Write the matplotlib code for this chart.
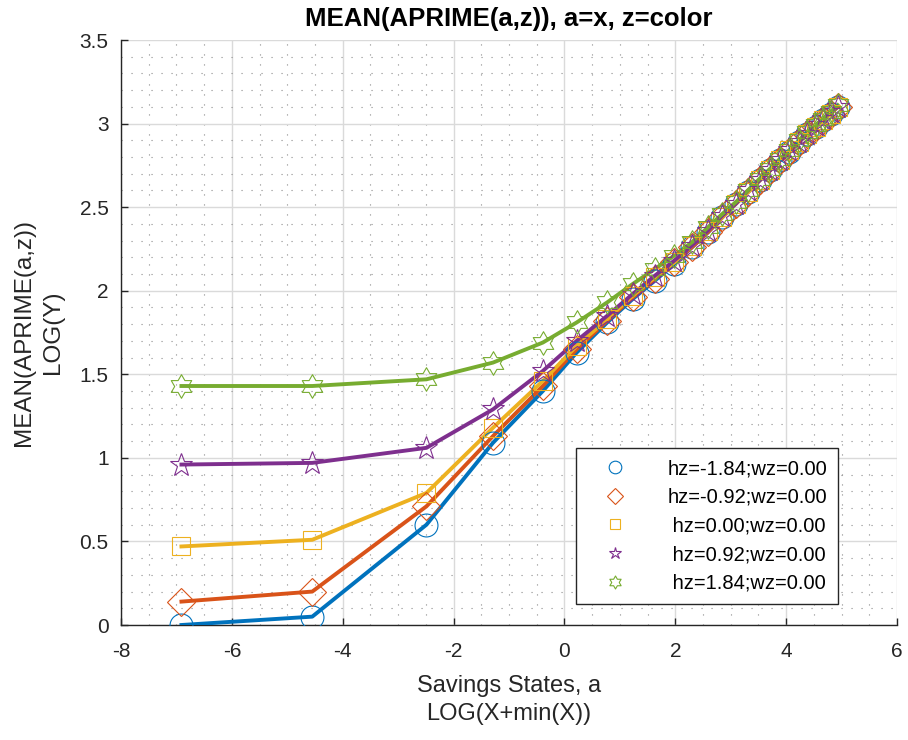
import matplotlib.pyplot as plt
from matplotlib.path import Path
from matplotlib.ticker import MultipleLocator

plt.rcParams['font.family'] = ['Liberation Sans', 'DejaVu Sans']
plt.rcParams['axes.unicode_minus'] = False

# savings grid, log(a + min)
x = [-6.91, -4.55, -2.49, -1.29, -0.39, 0.22, 0.77, 1.23, 1.63, 1.98, 2.30, 2.59, 2.85,
     3.09, 3.31, 3.52, 3.71, 3.89, 4.06, 4.23, 4.38, 4.53, 4.67, 4.80, 4.93]

# mean log(aprime) for each shock level
y_m184 = [0.00, 0.05, 0.60, 1.09, 1.40, 1.63, 1.81, 1.95, 2.06, 2.16, 2.26, 2.35, 2.44,
          2.52, 2.59, 2.66, 2.72, 2.78, 2.83, 2.89, 2.94, 2.98, 3.02, 3.06, 3.10]
y_m092 = [0.14, 0.20, 0.71, 1.13, 1.43, 1.65, 1.82, 1.96, 2.07, 2.17, 2.26, 2.35, 2.44,
          2.52, 2.59, 2.66, 2.72, 2.78, 2.83, 2.89, 2.94, 2.98, 3.02, 3.06, 3.10]
y_000 = [0.47, 0.51, 0.79, 1.18, 1.46, 1.67, 1.83, 1.97, 2.08, 2.17, 2.27, 2.36, 2.44,
         2.52, 2.59, 2.66, 2.72, 2.78, 2.84, 2.89, 2.94, 2.98, 3.02, 3.06, 3.10]
y_092 = [0.96, 0.97, 1.06, 1.29, 1.52, 1.70, 1.85, 1.98, 2.09, 2.18, 2.27, 2.36, 2.45,
         2.52, 2.60, 2.66, 2.72, 2.78, 2.84, 2.89, 2.94, 2.99, 3.03, 3.07, 3.10]
y_184 = [1.43, 1.43, 1.47, 1.57, 1.69, 1.81, 1.93, 2.04, 2.13, 2.21, 2.29, 2.38, 2.46,
         2.53, 2.60, 2.67, 2.73, 2.79, 2.84, 2.90, 2.95, 2.99, 3.03, 3.07, 3.11]

labels = ['hz=-1.84;wz=0.00', 'hz=-0.92;wz=0.00', ' hz=0.00;wz=0.00',
          ' hz=0.92;wz=0.00', ' hz=1.84;wz=0.00']
series = [y_m184, y_m092, y_000, y_092, y_184]
colors = ['#0072BD', '#D95319', '#EDB120', '#7E2F8E', '#77AC30']
hexagram = Path.unit_regular_star(6, innerCircle=0.577)
markers = ['o', 'D', 's', '*', hexagram]
msizes = [16.5, 14, 13, 17, 17]

fig = plt.figure(figsize=(9.08, 7.40), dpi=100)
ax = fig.add_axes([0.1333, 0.1554, 0.8546, 0.7905])

for ys, c in zip(series, colors):
    ax.plot(x, ys, color=c, linewidth=2.8, zorder=3)
for ys, c, m, ms, lab in zip(series, colors, markers, msizes, labels):
    ax.plot(x, ys, linestyle='none', marker=m, markersize=ms, markerfacecolor='none',
            markeredgecolor=c, markeredgewidth=0.8, label=lab, zorder=4)

ax.set_xlim(-8, 6)
ax.set_ylim(0, 3.5)
ax.xaxis.set_major_locator(MultipleLocator(2))
ax.yaxis.set_major_locator(MultipleLocator(0.5))
ax.xaxis.set_minor_locator(MultipleLocator(0.5))
ax.yaxis.set_minor_locator(MultipleLocator(0.1))
ax.grid(which='major', color='#dadada', linewidth=1.0)
ax.grid(which='minor', color='#8c8c8c', linestyle=(0, (1, 8)), linewidth=0.8)
ax.set_axisbelow(True)

ax.tick_params(which='major', direction='in', length=5, width=1, colors='#262626',
               labelsize=15)
ax.tick_params(axis='x', which='major', pad=12)
ax.tick_params(axis='y', which='major', pad=9)
ax.tick_params(which='minor', length=0)
ax.set_yticks([0, 0.5, 1, 1.5, 2, 2.5, 3, 3.5])
ax.set_yticklabels(['0', '0.5', '1', '1.5', '2', '2.5', '3', '3.5'])
for s in ['top', 'right']:
    ax.spines[s].set_visible(False)
for s in ['left', 'bottom']:
    ax.spines[s].set_color('#262626')
    ax.spines[s].set_linewidth(1.0)

ax.set_title('MEAN(APRIME(a,z)), a=x, z=color', fontsize=18.5, fontweight='bold', pad=10)
ax.set_xlabel('Savings States, a\nLOG(X+min(X))', fontsize=17, color='#262626',
              linespacing=1.4, labelpad=10)
ax.set_ylabel('MEAN(APRIME(a,z))\nLOG(Y)', fontsize=17.5, color='#262626',
              linespacing=1.4, labelpad=11)

leg = ax.legend(loc='upper right', bbox_to_anchor=(0.924, 0.3026), borderaxespad=0,
                fontsize=14.5, markerscale=0.55, fancybox=False, framealpha=1,
                edgecolor='#262626', labelspacing=0.48, handlelength=2.8,
                handletextpad=1.2, borderpad=0.55)
leg.get_frame().set_linewidth(1.0)

fig.savefig('out.png', dpi=100)
